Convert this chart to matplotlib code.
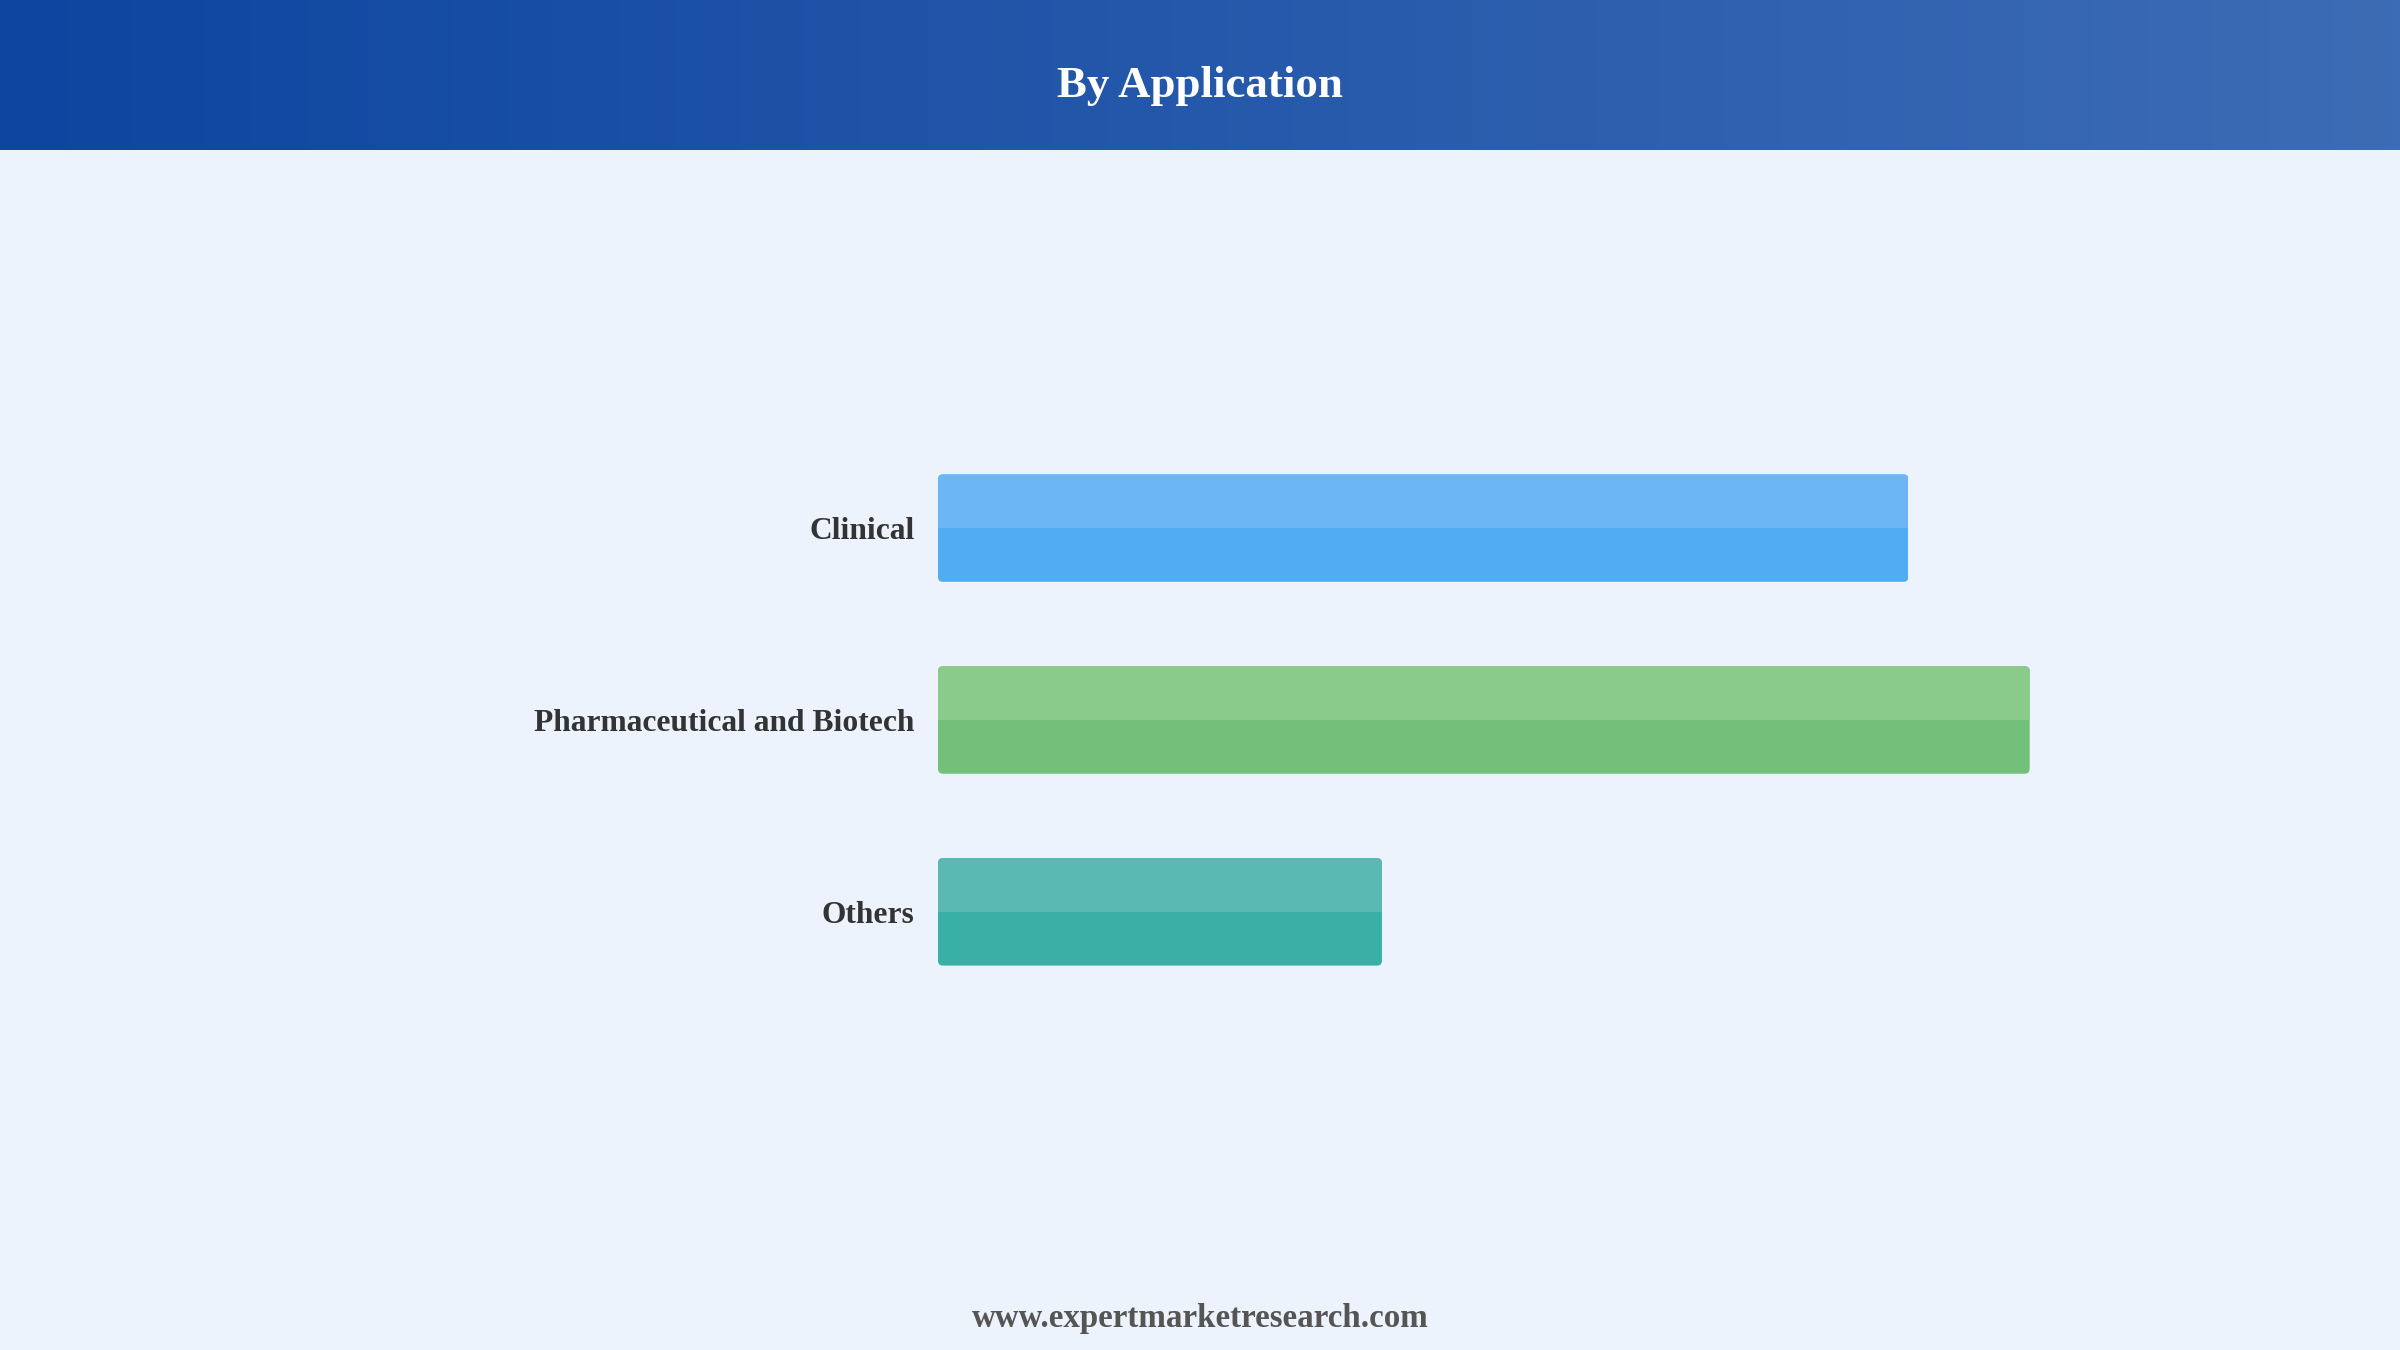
import matplotlib.pyplot as plt
import numpy as np
from matplotlib.patches import FancyBboxPatch

# data
categories = ["Clinical", "Pharmaceutical and Biotech", "Others"]
values = [40.0, 45.0, 18.3]
base_colors = ["#52acf3", "#72c07a", "#3aafa6"]
top_colors = ["#6cb6f5", "#8acb8c", "#5ab9b1"]
title = "By Application"
footer = "www.expertmarketresearch.com"

plt.rcParams['font.family'] = ['Liberation Serif', 'DejaVu Serif']

fig = plt.figure(figsize=(24, 13.5), dpi=100)
fig.patch.set_facecolor("#ecf3fc")

# header band with horizontal gradient
hax = fig.add_axes([0, 1 - 150 / 1350, 1, 150 / 1350])
c0 = np.array([13, 69, 160]) / 255
c1 = np.array([61, 108, 181]) / 255
t = np.linspace(0, 1, 256)[None, :, None]
grad = c0 + (c1 - c0) * t
hax.imshow(grad, aspect="auto", extent=[0, 1, 0, 1])
hax.set_axis_off()
hax.text(0.5, 0.43, title, color="white", fontsize=32.3, fontweight="bold",
         ha="center", va="center", transform=hax.transAxes)

# bar chart
ax = fig.add_axes([938 / 2400, 1 - 1027 / 1350, 1213 / 2400, 614 / 1350])
ax.set_facecolor("none")
y = np.arange(len(categories))
h = 0.56
bars = ax.barh(y, values, height=h, color=base_colors, zorder=2)
tops = ax.barh(y - h / 4, values, height=h / 2, color=top_colors, zorder=3)
ax.set_xlim(0, 50)
ax.set_ylim(2.6, -0.6)

# rounded corners via clip paths
xpp = 50 / 1213
ypp = 1 / 192
for b, tb in zip(bars, tops):
    x0, y0 = b.get_x(), b.get_y()
    w, hh = b.get_width(), b.get_height()
    clip = FancyBboxPatch((x0, y0), w, hh,
                          boxstyle="round,pad=0,rounding_size=%f" % (5 * xpp),
                          mutation_aspect=ypp / xpp, transform=ax.transData)
    b.set_clip_path(clip)
    tb.set_clip_path(clip)

ax.set_yticks(y)
ax.set_yticklabels(categories, fontsize=22.7, fontweight="bold", color="#333333")
ax.tick_params(axis="y", length=0, pad=17)
ax.set_xticks([])
for s in ax.spines.values():
    s.set_visible(False)

fig.text(0.5, 1 - 1319 / 1350, footer, ha="center", va="center",
         fontsize=23.8, fontweight="bold", color="#555555")

fig.savefig("out.png", dpi=100, facecolor=fig.get_facecolor())
